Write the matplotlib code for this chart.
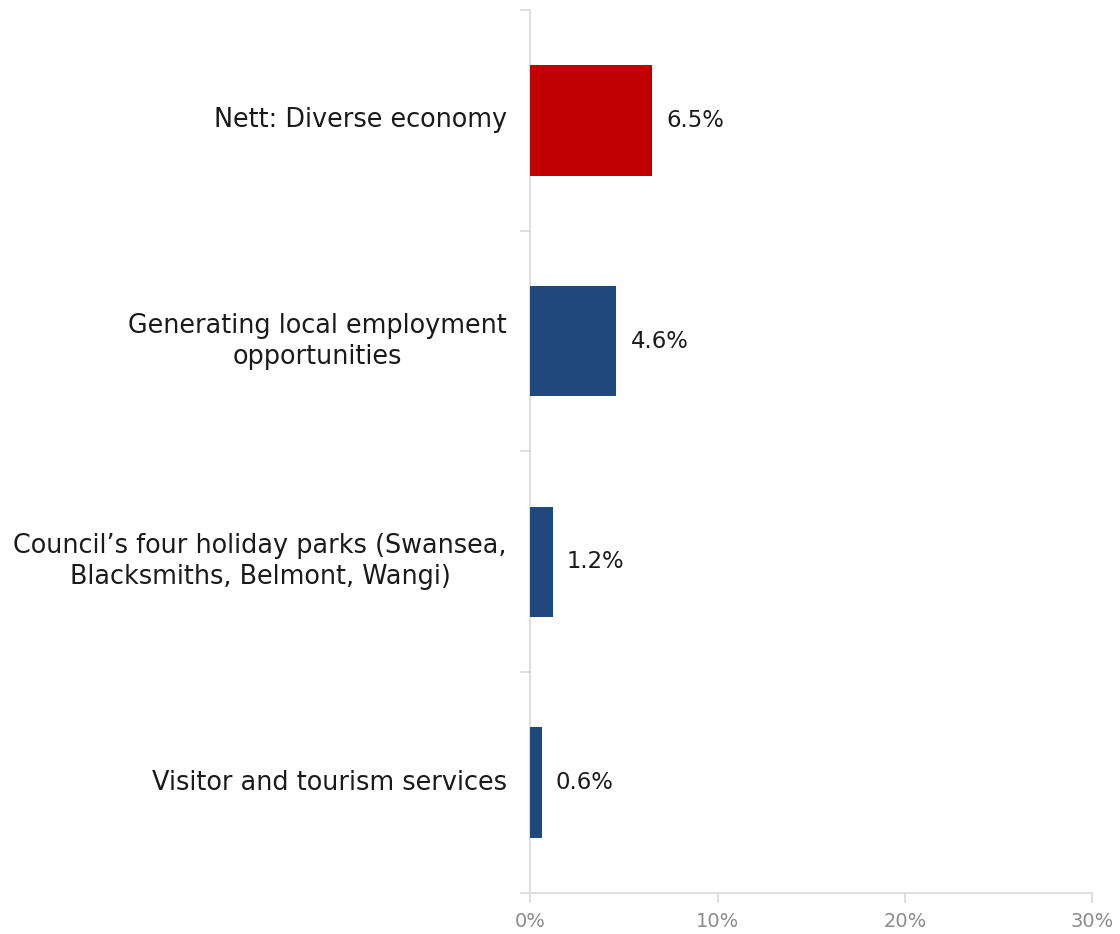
import matplotlib
matplotlib.use("Agg")
import matplotlib.pyplot as plt
from matplotlib.ticker import FuncFormatter

categories = [
    "Nett: Diverse economy",
    "Generating local employment\nopportunities",
    "Council\u2019s four holiday parks (Swansea,\nBlacksmiths, Belmont, Wangi)",
    "Visitor and tourism services",
]
values = [6.5, 4.6, 1.2, 0.6]
colors = ["#c00000", "#1f497d", "#1f497d", "#1f497d"]
x_ticks = [0, 10, 20, 30]

plt.rcParams["font.family"] = ["DejaVu Sans"]
axis_grey = "#d9d9d9"

fig = plt.figure(figsize=(11.2, 9.34), dpi=100)
ax = fig.add_axes([0.4735, 0.0439, 0.5015, 0.9454])

pos = list(range(len(categories)))
ax.barh(pos, values, height=0.5, color=colors, zorder=3)
ax.set_ylim(len(categories) - 0.5, -0.5)
ax.set_xlim(0, 30)

for p, v in zip(pos, values):
    ax.text(v + 0.75, p, f"{v:.1f}%", va="center", ha="left",
            fontsize=16.4, color="#1a1a1a")

# category labels, centred on each line and right-aligned against the axis
ax.set_yticks(pos)
ax.set_yticklabels([])
for p, c in zip(pos, categories):
    ax.text(-1.25, p, c, ha="right", va="center", multialignment="center",
            fontsize=18.4, color="#1a1a1a", linespacing=1.25)

# boundary ticks between categories
ax.set_yticks([i - 0.5 for i in range(len(categories) + 1)], minor=True)
ax.tick_params(axis="y", which="major", length=0)
ax.tick_params(axis="y", which="minor", length=7, width=1.2, color=axis_grey)

ax.set_xticks(x_ticks)
ax.xaxis.set_major_formatter(FuncFormatter(lambda v, _: f"{v:.0f}%"))
ax.tick_params(axis="x", length=7, width=1.2, color=axis_grey,
               labelsize=14, labelcolor="#8c8c8c", pad=7)

for s in ["top", "right"]:
    ax.spines[s].set_visible(False)
for s in ["left", "bottom"]:
    ax.spines[s].set_color(axis_grey)
    ax.spines[s].set_linewidth(1.2)

fig.savefig("out.png", dpi=100)
